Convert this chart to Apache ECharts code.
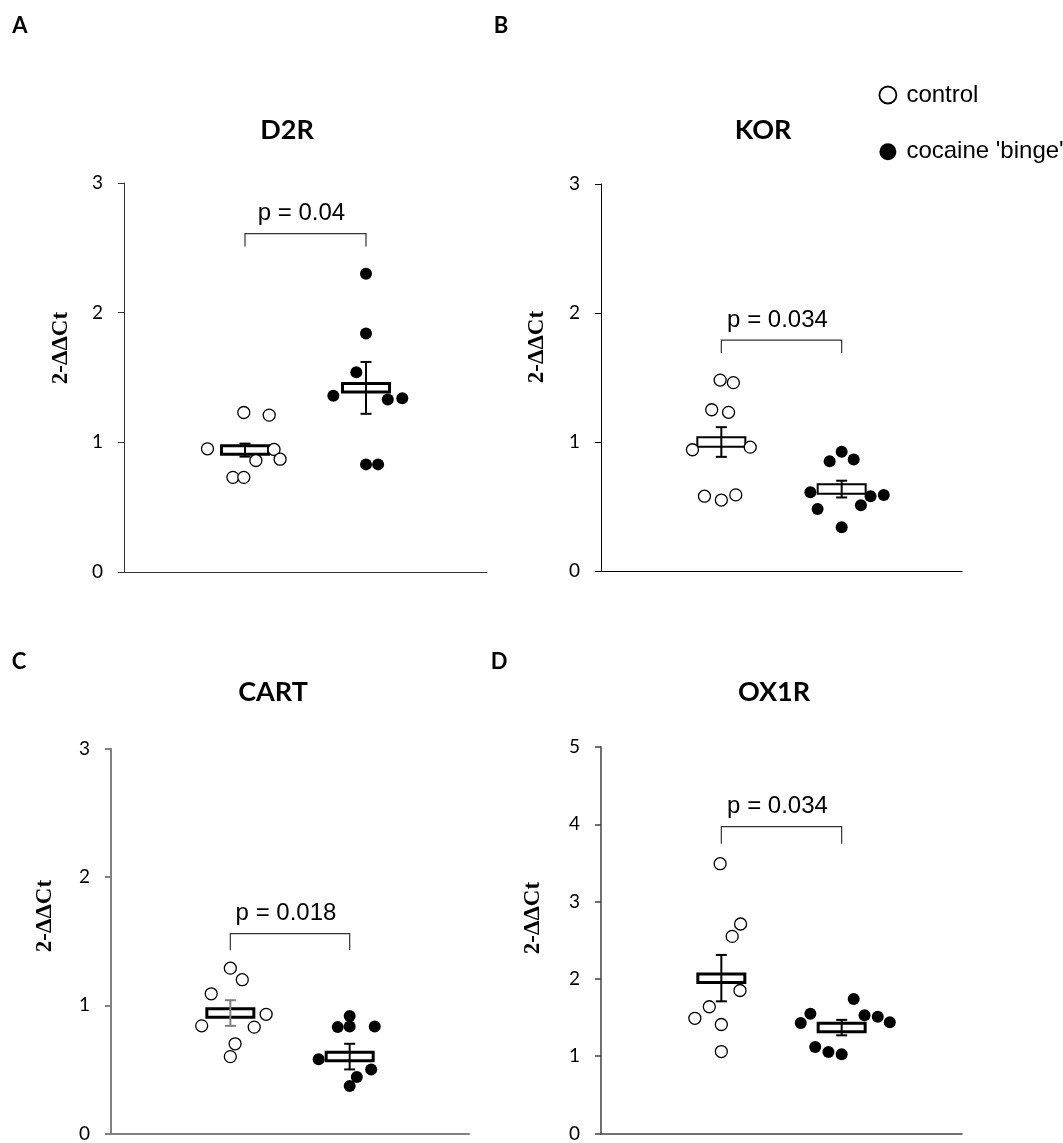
<!DOCTYPE html>
<html>
<head>
<meta charset="utf-8">
<script src="https://cdn.jsdelivr.net/npm/echarts@6/dist/echarts.min.js"></script>
<style>
html,body{margin:0;padding:0;background:#fff;}
#chart{width:1063px;height:1143px;}
</style>
</head>
<body>
<div id="chart"></div>
<script>
// ---------- DATA ----------
const groups = ['control', "cocaine 'binge'"];
const groupX = [1, 2];
const genes = ['D2R', 'KOR', 'CART', 'OX1R'];
const panelLetters = ['A', 'B', 'C', 'D'];
const yMax = [3, 3, 3, 5];
const yLabel = '2-\u0394\u0394Ct';

// D2R
const d2rControlX = [0.69, 0.99, 1.20, 1.24, 1.29, 1.09, 0.90, 0.99];
const d2rControlY = [0.95, 1.23, 1.21, 0.945, 0.87, 0.86, 0.73, 0.73];
const d2rCocaineX = [2.00, 2.00, 1.92, 1.73, 2.18, 2.30, 2.00, 2.10];
const d2rCocaineY = [2.30, 1.84, 1.54, 1.36, 1.33, 1.34, 0.83, 0.83];
const d2rMean = [0.94, 1.42];
const d2rSem = [0.05, 0.20];

// KOR
const korControlX = [0.99, 1.10, 0.92, 1.06, 0.76, 1.24, 0.86, 1.00, 1.12];
const korControlY = [1.48, 1.46, 1.25, 1.23, 0.94, 0.96, 0.58, 0.55, 0.59];
const korCocaineX = [2.00, 1.90, 2.10, 1.74, 2.24, 2.35, 1.80, 2.16, 2.00];
const korCocaineY = [0.925, 0.85, 0.865, 0.61, 0.58, 0.59, 0.48, 0.51, 0.34];
const korMean = [1.00, 0.635];
const korSem = [0.115, 0.065];

// CART
const cartControlX = [1.00, 1.10, 0.84, 1.30, 0.76, 1.20, 1.04, 1.00];
const cartControlY = [1.29, 1.20, 1.09, 0.93, 0.84, 0.83, 0.70, 0.60];
const cartCocaineX = [2.00, 1.90, 2.00, 2.21, 1.74, 2.18, 2.06, 2.00];
const cartCocaineY = [0.917, 0.83, 0.835, 0.835, 0.58, 0.50, 0.44, 0.37];
const cartMean = [0.94, 0.60];
const cartSem = [0.10, 0.10];

// OX1R
const ox1rControlX = [0.99, 1.16, 1.09, 1.155, 0.90, 0.78, 1.00, 1.00];
const ox1rControlY = [3.49, 2.71, 2.55, 1.85, 1.64, 1.49, 1.41, 1.06];
const ox1rCocaineX = [2.10, 1.74, 1.66, 2.19, 2.30, 2.40, 1.78, 1.89, 2.00];
const ox1rCocaineY = [1.74, 1.55, 1.43, 1.53, 1.51, 1.44, 1.12, 1.055, 1.025];
const ox1rMean = [2.01, 1.37];
const ox1rSem = [0.30, 0.10];

// significance brackets
const pValues = ['p = 0.04', 'p = 0.034', 'p = 0.018', 'p = 0.034'];
const bracketTop = [2.61, 1.79, 1.56, 3.97];
const bracketLeg = [2.51, 1.69, 1.43, 3.75];

// ---------- LAYOUT / STYLE ----------
const panelData = [
  {cx: d2rControlX, cy: d2rControlY, kx: d2rCocaineX, ky: d2rCocaineY, mean: d2rMean, sem: d2rSem},
  {cx: korControlX, cy: korControlY, kx: korCocaineX, ky: korCocaineY, mean: korMean, sem: korSem},
  {cx: cartControlX, cy: cartControlY, kx: cartCocaineX, ky: cartCocaineY, mean: cartMean, sem: cartSem},
  {cx: ox1rControlX, cy: ox1rControlY, kx: ox1rCocaineX, ky: ox1rCocaineY, mean: ox1rMean, sem: ox1rSem}
];
const layout = [
  {grid: {left: 124, right: 576, top: 183, bottom: 571}, axisColor: '#333', axisWidth: 1, boxBorder: 3, errColor: ['#000', '#000'], title: [287, 130], letter: [20, 26], yLab: [61, 348]},
  {grid: {left: 601, right: 101, top: 184, bottom: 572}, axisColor: '#000', axisWidth: 1, boxBorder: 2, errColor: ['#000', '#000'], title: [763, 130], letter: [501, 26], yLab: [537, 347]},
  {grid: {left: 111, right: 594, top: 749, bottom: 6}, axisColor: '#808080', axisWidth: 2, boxBorder: 3, errColor: ['#808080', '#000'], title: [273, 692], letter: [19, 662], yLab: [45, 916]},
  {grid: {left: 601, right: 101, top: 747, bottom: 6}, axisColor: '#404040', axisWidth: 1.5, boxBorder: 3, errColor: ['#000', '#000'], title: [774, 692], letter: [499, 662], yLab: [533, 918]}
];

const sansBold = 'Lato, "Open Sans", sans-serif';
const arial = '"Liberation Sans", Arial, sans-serif';

const grids = [], xAxes = [], yAxes = [], series = [], graphics = [];

layout.forEach((L, i) => {
  const D = panelData[i];
  grids.push(Object.assign({}, L.grid));
  xAxes.push({
    type: 'value', gridIndex: i, min: 0, max: 3,
    axisLine: {show: true, lineStyle: {color: L.axisColor, width: L.axisWidth}},
    axisTick: {show: false}, axisLabel: {show: false}, splitLine: {show: false}
  });
  yAxes.push({
    type: 'value', gridIndex: i, min: 0, max: yMax[i], interval: 1,
    axisLine: {show: true, onZero: false, lineStyle: {color: L.axisColor, width: L.axisWidth}},
    axisTick: {show: true, length: 6, lineStyle: {color: L.axisColor, width: L.axisWidth}},
    axisLabel: {show: true, margin: 21, fontFamily: sansBold, fontSize: 19, color: '#000'},
    splitLine: {show: false}
  });

  // mean boxes + SEM error bars
  const bw = L.boxBorder >= 3 ? 47 : 48;
  const bh = L.boxBorder >= 3 ? 8.5 : 9.5;
  series.push({
    type: 'custom', xAxisIndex: i, yAxisIndex: i, z: 3, silent: true,
    data: groupX.map((x, k) => [x, D.mean[k], D.mean[k] - D.sem[k], D.mean[k] + D.sem[k], k]),
    renderItem: function (params, api) {
      const x = api.value(0);
      const m = api.coord([x, api.value(1)]);
      const lo = api.coord([x, api.value(2)]);
      const hi = api.coord([x, api.value(3)]);
      const col = L.errColor[api.value(4)];
      const w = 5.5;
      const st = {stroke: col, lineWidth: 2};
      return {type: 'group', children: [
        {type: 'rect', shape: {x: m[0] - bw / 2, y: m[1] - bh / 2, width: bw, height: bh},
          style: {fill: '#fff', stroke: '#000', lineWidth: L.boxBorder}},
        {type: 'line', shape: {x1: lo[0], y1: lo[1], x2: hi[0], y2: hi[1]}, style: st},
        {type: 'line', shape: {x1: lo[0] - w, y1: lo[1], x2: lo[0] + w, y2: lo[1]}, style: st},
        {type: 'line', shape: {x1: hi[0] - w, y1: hi[1], x2: hi[0] + w, y2: hi[1]}, style: st}
      ]};
    }
  });
  // individual points
  series.push({
    name: groups[0], type: 'scatter', xAxisIndex: i, yAxisIndex: i, z: 4,
    symbol: 'circle', symbolSize: 12,
    itemStyle: {color: '#fff', borderColor: '#000', borderWidth: 1.3, opacity: 1},
    data: D.cx.map((x, k) => [x, D.cy[k]])
  });
  series.push({
    name: groups[1], type: 'scatter', xAxisIndex: i, yAxisIndex: i, z: 4,
    symbol: 'circle', symbolSize: 12,
    itemStyle: {color: '#000', borderColor: '#000', borderWidth: 0, opacity: 1},
    data: D.kx.map((x, k) => [x, D.ky[k]])
  });
  // significance bracket
  series.push({
    type: 'custom', xAxisIndex: i, yAxisIndex: i, z: 5, silent: true,
    data: [[groupX[0], groupX[1], bracketTop[i], bracketLeg[i]]],
    renderItem: function (params, api) {
      const a = api.coord([api.value(0), api.value(3)]);
      const b = api.coord([api.value(0), api.value(2)]);
      const c = api.coord([api.value(1), api.value(2)]);
      const d = api.coord([api.value(1), api.value(3)]);
      return {type: 'group', children: [
        {type: 'polyline', shape: {points: [a, b, c, d]}, style: {stroke: '#333', lineWidth: 1.2, fill: null}},
        {type: 'text', x: (b[0] + c[0]) / 2 - 4, y: b[1] - 8,
          style: {text: pValues[i], font: '24px ' + arial, fill: '#000',
            align: 'center', verticalAlign: 'bottom', textAlign: 'center', textVerticalAlign: 'bottom'}}
      ]};
    }
  });

  // titles, panel letters, y-axis labels
  graphics.push({type: 'text', x: L.title[0], y: L.title[1], silent: true,
    style: {text: genes[i], font: 'bold 27px ' + sansBold, fill: '#000',
      align: 'center', verticalAlign: 'middle', textAlign: 'center', textVerticalAlign: 'middle'}});
  graphics.push({type: 'text', x: L.letter[0], y: L.letter[1], silent: true,
    style: {text: panelLetters[i], font: 'bold 22px ' + sansBold, fill: '#000',
      align: 'center', verticalAlign: 'middle', textAlign: 'center', textVerticalAlign: 'middle'}});
  graphics.push({type: 'text', x: L.yLab[0], y: L.yLab[1], rotation: Math.PI / 2, silent: true,
    style: {text: yLabel, font: 'bold 23px "Liberation Serif", "DejaVu Serif", serif', fill: '#000',
      align: 'center', verticalAlign: 'middle', textAlign: 'center', textVerticalAlign: 'middle'}});
});

const chart = echarts.init(document.getElementById('chart'), null, {renderer: 'canvas'});
chart.setOption({
  animation: false,
  backgroundColor: '#fff',
  grid: grids,
  xAxis: xAxes,
  yAxis: yAxes,
  legend: {
    orient: 'vertical', left: 878.5, top: 83, padding: 0,
    itemWidth: 17, itemHeight: 17, itemGap: 32.7, icon: 'circle',
    textStyle: {fontFamily: arial, fontSize: 24, color: '#000', lineHeight: 24, padding: [0, 0, 0, 5]},
    data: [
      {name: groups[0], itemStyle: {color: '#fff', borderColor: '#000', borderWidth: 1.8}},
      {name: groups[1], itemStyle: {color: '#000'}}
    ]
  },
  graphic: graphics,
  series: series
});
</script>
</body>
</html>
